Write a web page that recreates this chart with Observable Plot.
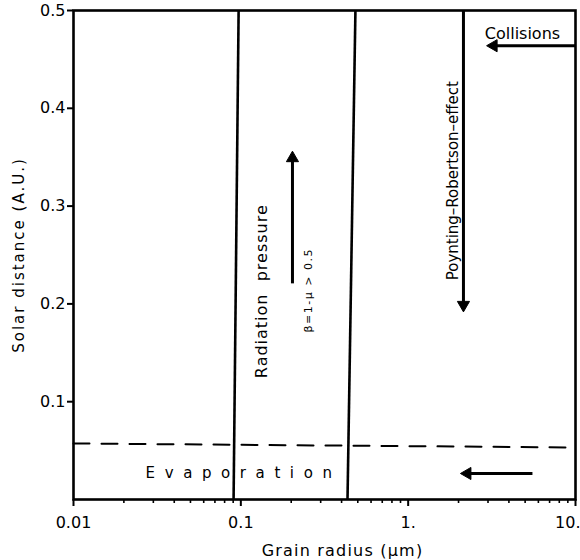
<!DOCTYPE html>
<html>
<head>
<meta charset="utf-8">
<script src="https://cdn.jsdelivr.net/npm/d3@7"></script>
<script src="https://cdn.jsdelivr.net/npm/@observablehq/plot@0.6"></script>
<style>
  html, body { margin: 0; padding: 0; background: #fff; }
  #chart { width: 580px; height: 560px; }
</style>
</head>
<body>
<div id="chart"></div>
<script>
// ---- axis ticks ----
const xMajor = [0.01, 0.1, 1, 10];
const xMajorLabels = ["0.01", "0.1", "1.", "10."];
const xMinor = [0.02, 0.03, 0.04, 0.05, 0.06, 0.07, 0.08, 0.09,
                0.2, 0.3, 0.4, 0.5, 0.6, 0.7, 0.8, 0.9,
                2, 3, 4, 5, 6, 7, 8, 9];
const yTicks = [0.1, 0.2, 0.3, 0.4, 0.5];
const yTickLabels = ["0.1", "0.2", "0.3", "0.4", "0.5"];

// ---- regime boundaries (grain radius at bottom / top of the panel) ----
const boundaryNames = ["radiation pressure limit", "Poynting-Robertson limit"];
const boundaryRadiusBottom = [0.0905, 0.434];
const boundaryRadiusTop = [0.097, 0.484];
const boundaryDistBottom = [0, 0];
const boundaryDistTop = [0.5, 0.5];

// ---- evaporation limit (dashed) ----
const evapRadius = [0.01, 10];
const evapDistance = [0.0573, 0.0532];

// ---- process arrows ----
const arrowNames = ["Collisions", "Poynting-Robertson", "Radiation pressure", "Evaporation"];
const arrowFromRadius = [10, 2.14, 0.2035, 5.53];
const arrowFromDist = [0.464, 0.5, 0.221, 0.0266];
const arrowToRadius = [3.24, 2.14, 0.2035, 2.26];
const arrowToDist = [0.464, 0.199, 0.349, 0.0266];

// ---- annotation labels ----
const labelTexts = ["Collisions", "Poynting\u2013Robertson\u2013effect", "Radiation  pressure", "\u03b2=1-\u03bc > 0.5", "Evaporation"];
const labelRadius = [4.82, 1.87, 0.133, 0.2535, 0.1038];
const labelDist = [0.476, 0.326, 0.213, 0.214, 0.0266];

const boundaries = boundaryNames.map((n, i) => ({
  name: n, x1: boundaryRadiusBottom[i], y1: boundaryDistBottom[i],
  x2: boundaryRadiusTop[i], y2: boundaryDistTop[i]
}));
const evap = evapRadius.map((r, i) => ({r, d: evapDistance[i]}));
const arrows = arrowNames.map((n, i) => ({
  name: n, x1: arrowFromRadius[i], y1: arrowFromDist[i],
  x2: arrowToRadius[i], y2: arrowToDist[i],
  // head orientation follows the arrow direction
  dir: arrowToRadius[i] < arrowFromRadius[i] ? -90 : arrowToDist[i] < arrowFromDist[i] ? 180 : 0
}));
const labels = labelTexts.map((t, i) => ({text: t, x: labelRadius[i], y: labelDist[i]}));
const xTickData = xMajor.map((v, i) => ({v, label: xMajorLabels[i]}));

const font = "DejaVu Sans, sans-serif";

const plot = Plot.plot({
  width: 580,
  height: 560,
  marginLeft: 73,
  marginRight: 5,
  marginTop: 10,
  marginBottom: 61,
  style: {fontFamily: font, color: "#000", background: "#fff"},
  x: {type: "log", domain: [0.01, 10]},
  y: {domain: [0, 0.5]},
  marks: [
    Plot.frame({stroke: "#000", strokeWidth: 2.6}),
    // x axis: major & minor ticks
    Plot.axisX(xMajor, {tickSize: 7, strokeWidth: 2, tickFormat: () => "", label: null}),
    Plot.axisX(xMinor, {tickSize: 4, strokeWidth: 1.6, tickFormat: () => "", label: null}),
    Plot.text(xTickData.slice(0, 3), {
      x: "v", text: "label", frameAnchor: "bottom", lineAnchor: "middle", dy: 23, fontSize: 16
    }),
    Plot.text(xTickData.slice(3), {
      x: "v", text: "label", frameAnchor: "bottom", lineAnchor: "middle", dy: 23, dx: 5,
      textAnchor: "end", fontSize: 16
    }),
    // y axis
    Plot.axisY(yTicks, {
      tickSize: 6, tickPadding: 2, strokeWidth: 2,
      tickFormat: (d) => yTickLabels[yTicks.indexOf(d)],
      fontSize: 16, label: null
    }),
    // axis titles
    Plot.text(["Solar distance (A.U.)"], {
      frameAnchor: "left", textAnchor: "middle", lineAnchor: "middle",
      dx: -54, rotate: -90, fontSize: 15, text: (d) => d
    }),
    Plot.text(["Grain radius (\u00b5m)"], {
      frameAnchor: "bottom", textAnchor: "middle", lineAnchor: "middle",
      dy: 51, dx: 18, fontSize: 16, text: (d) => d
    }),
    // boundaries
    Plot.link(boundaries, {x1: "x1", y1: "y1", x2: "x2", y2: "y2", stroke: "#000", strokeWidth: 2.6}),
    // evaporation dashed line
    Plot.line(evap, {x: "r", y: "d", stroke: "#000", strokeWidth: 2, strokeDasharray: "16,12"}),
    // arrows: shaft + filled head
    Plot.link(arrows, {x1: "x1", y1: "y1", x2: "x2", y2: "y2", stroke: "#000", strokeWidth: 3}),
    Plot.dot(arrows, {x: "x2", y: "y2", symbol: "triangle", r: 4.5, fill: "#000", stroke: "#000",
      strokeWidth: 1, rotate: "dir"}),
    // labels
    Plot.text([labels[0]], {x: "x", y: "y", text: "text", fontSize: 16}),
    Plot.text([labels[1]], {x: "x", y: "y", text: "text", fontSize: 15, rotate: -90}),
    Plot.text([labels[2]], {x: "x", y: "y", text: "text", fontSize: 16, rotate: -90}),
    Plot.text([labels[3]], {x: "x", y: "y", text: "text", fontSize: 11, rotate: -90}),
    Plot.text([labels[4]], {x: "x", y: "y", text: "text", fontSize: 15})
  ]
});

document.getElementById("chart").appendChild(plot);

// letter spacing to mimic the original typesetting
const spacing = {
  "Evaporation": "9.6px",
  "Solar distance (A.U.)": "2px",
  "Grain radius (\u00b5m)": "1.2px",
  "Radiation  pressure": "1px",
  "\u03b2=1-\u03bc > 0.5": "1.5px"
};
plot.querySelectorAll("text").forEach((t) => {
  const s = spacing[t.textContent];
  if (s) { t.setAttribute("letter-spacing", s); t.style.whiteSpace = "pre"; }
});
</script>
</body>
</html>
